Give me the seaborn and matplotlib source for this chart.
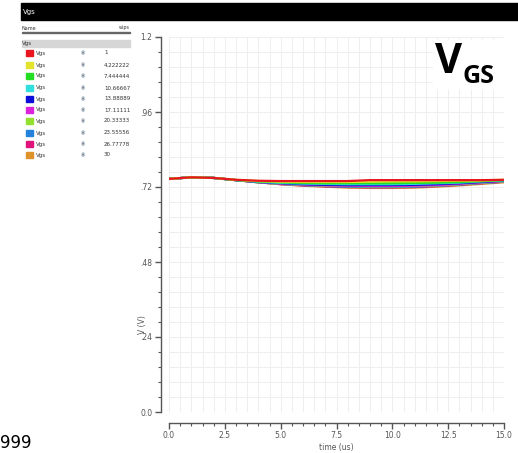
import matplotlib
matplotlib.use("Agg")
import matplotlib.pyplot as plt
import seaborn as sns
import pandas as pd
from matplotlib.patches import Rectangle
from matplotlib.ticker import MultipleLocator, FixedLocator

W, H = 518, 453

# time axis (us)
time_us = [0, 1, 2, 3, 4, 5, 6, 7, 8, 9, 10, 11, 12, 13, 14, 15]

# sweep parameter (wips) and the Vgs curve for each value
wips = ["1", "4.222222", "7.444444", "10.66667", "13.88889",
        "17.11111", "20.33333", "23.55556", "26.77778", "30"]
vgs_1 = [.746, .751, .749, .743, .740, .739, .739, .739, .739, .742, .742, .742, .742, .742, .742, .743]
vgs_4 = [.746, .751, .749, .743, .739, .737, .736, .736, .736, .737, .738, .738, .739, .740, .741, .743]
vgs_7 = [.746, .751, .749, .742, .738, .735, .733, .732, .732, .732, .732, .733, .734, .736, .739, .742]
vgs_10 = [.746, .751, .749, .742, .737, .733, .731, .730, .729, .729, .729, .730, .732, .734, .738, .741]
vgs_13 = [.746, .751, .749, .742, .736, .732, .729, .727, .726, .726, .726, .727, .729, .732, .736, .740]
vgs_17 = [.746, .751, .749, .742, .736, .731, .728, .725, .724, .723, .723, .724, .726, .730, .735, .739]
vgs_20 = [.746, .751, .749, .742, .735, .730, .727, .724, .723, .722, .722, .723, .725, .729, .734, .738]
vgs_23 = [.746, .751, .749, .742, .735, .730, .726, .723, .721, .720, .720, .721, .724, .728, .733, .737]
vgs_26 = [.746, .751, .749, .742, .735, .729, .725, .722, .720, .719, .719, .720, .723, .727, .732, .737]
vgs_30 = [.746, .751, .749, .742, .735, .729, .724, .721, .718, .717, .717, .718, .721, .725, .730, .735]
all_vgs = [vgs_1, vgs_4, vgs_7, vgs_10, vgs_13, vgs_17, vgs_20, vgs_23, vgs_26, vgs_30]

colors = ["#e8141e", "#e4e42c", "#22dd22", "#30dede", "#0c0cd8",
          "#dc22dc", "#94e030", "#2282dc", "#e0127c", "#e0922a"]

rows = []
for w, vals in zip(wips, all_vgs):
    for t, v in zip(time_us, vals):
        rows.append({"time": t, "V": v, "wips": w})
df = pd.DataFrame(rows)

sns.set_theme(style="white")
plt.rcParams['font.family'] = ['DejaVu Sans']


def fx(x):
    return x / W


def fy(y):
    return 1 - y / H


fig = plt.figure(figsize=(W / 100, H / 100), dpi=100)
ax = fig.add_axes([fx(169), fy(412), (504 - 169) / W, (412 - 37) / H])

# draw red last so it sits on top where curves overlap
sns.lineplot(data=df, x="time", y="V", hue="wips", hue_order=wips[::-1],
             palette=dict(zip(wips, colors)), linewidth=1.6, legend=False,
             ax=ax)

ax.set_xlim(0, 15)
ax.set_ylim(0, 1.2)
ax.xaxis.set_major_locator(FixedLocator([0, 2.5, 5, 7.5, 10, 12.5, 15]))
ax.xaxis.set_minor_locator(MultipleLocator(0.5))
ax.set_xticklabels(["0.0", "2.5", "5.0", "7.5", "10.0", "12.5", "15.0"])
ax.yaxis.set_major_locator(FixedLocator([0, .24, .48, .72, .96, 1.2]))
ax.yaxis.set_minor_locator(MultipleLocator(0.048))
ax.set_yticklabels(["0.0", ".24", ".48", ".72", ".96", "1.2"])
ax.grid(True, which="both", color="#eeeeee", linewidth=0.7)
ax.set_axisbelow(True)

for s in ["top", "right"]:
    ax.spines[s].set_visible(False)
ax.spines["left"].set_position(("outward", 6))
ax.spines["bottom"].set_position(("outward", 8))
for s in ["left", "bottom"]:
    ax.spines[s].set_color("#555555")
    ax.spines[s].set_linewidth(1.0)
ax.tick_params(which="major", direction="out", length=4, width=1,
               color="#555555", labelsize=5.5, labelcolor="#555555", pad=2)
ax.tick_params(which="minor", direction="out", length=2.5, width=0.8,
               color="#555555")
ax.tick_params(axis="x", which="both", bottom=True)
ax.tick_params(axis="y", which="both", left=True)
ax.set_xlabel("time (us)", fontsize=5.5, color="#555555", labelpad=2)
ax.set_ylabel("V (V)", fontsize=5.5, color="#555555")
ax.yaxis.set_label_coords(-0.066, 0.232)

# big label in the corner, on a white patch over the grid
fig.patches.append(Rectangle((fx(433), fy(88)), 70 / W, 48 / H,
                             transform=fig.transFigure, color="white"))
fig.text(fx(435), fy(73), "V", fontsize=30, fontweight="bold",
         family="Open Sans", color="black", va="baseline")
fig.text(fx(463), fy(83), "GS", fontsize=18, fontweight="bold",
         family="Open Sans", color="black", va="baseline")

# waveform window header and legend panel
fig.patches.append(Rectangle((fx(21), fy(20)), (W - 21) / W, 17 / H,
                             transform=fig.transFigure, color="black"))
fig.text(fx(23), fy(12), "Vgs", fontsize=5, color="white", va="center")
fig.text(fx(22), fy(28), "Name", fontsize=3.5, color="#333333", va="center")
fig.text(fx(130), fy(28), "wips", fontsize=3.5, color="#333333", va="center",
         ha="right")
fig.patches.append(Rectangle((fx(22), fy(33)), 108 / W, 1.2 / H,
                             transform=fig.transFigure, color="#666666"))
fig.patches.append(Rectangle((fx(22), fy(47)), 108 / W, 7 / H,
                             transform=fig.transFigure, color="#d6d6d6"))
fig.text(fx(22), fy(43.5), "Vgs", fontsize=4, color="#333333", va="center")

row_y = [53, 65, 76, 88, 99, 110, 121, 133, 144, 155]
for yy, w, c in zip(row_y, wips, colors):
    fig.patches.append(Rectangle((fx(26), fy(yy + 3)), 7 / W, 6 / H,
                                 transform=fig.transFigure, color=c))
    fig.text(fx(36), fy(yy), "Vgs", fontsize=4, color="#333333", va="center")
    fig.text(fx(83), fy(yy), "◉", fontsize=3.5, color="#8090a0",
             va="center", ha="center")
    fig.text(fx(104), fy(yy), w, fontsize=4, color="#333333", va="center")

# caption at the bottom edge
fig.text(fx(0), fy(452), "999", fontsize=12, color="black", va="bottom")

fig.savefig("out.png", dpi=100)
